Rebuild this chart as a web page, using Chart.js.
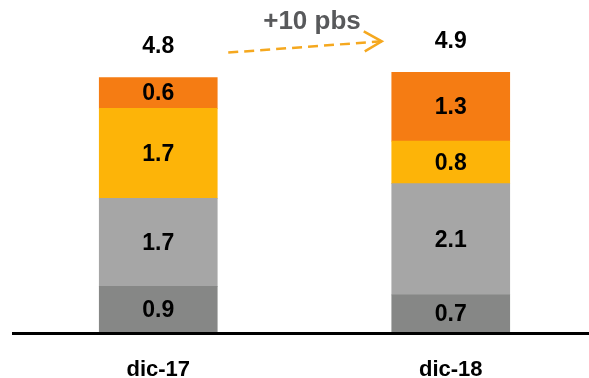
<!DOCTYPE html>
<html>
<head>
<meta charset="utf-8">
<script src="https://cdn.jsdelivr.net/npm/chart.js@4.4.0/dist/chart.umd.min.js"></script>
<style>
  html, body { margin: 0; padding: 0; overflow: hidden; background: #fff; }
  #wrap { width: 600px; height: 408px; }
</style>
</head>
<body>
<div id="wrap"><canvas id="chart" width="600" height="408"></canvas></div>
<script>
// datos
const categories = ['dic-17', 'dic-18'];
const seriesDark = [0.86, 0.7];
const seriesGray = [1.66, 2.1];
const seriesYellow = [1.7, 0.8];
const seriesOrange = [0.58, 1.3];
const totals = [4.8, 4.9];
const changeLabel = '+10 pbs';

const FONT = '"Liberation Sans", Arial, sans-serif';

// etiquetas, totales, flecha y eje
const labelsPlugin = {
    id: 'labels',
    afterDatasetsDraw(chart) {
        const ctx = chart.ctx;
        const area = chart.chartArea;
        ctx.save();
        ctx.textAlign = 'center';
        ctx.textBaseline = 'middle';
        ctx.font = 'bold 23px ' + FONT;
        ctx.fillStyle = '#000';
        chart.data.datasets.forEach((ds, i) => {
            chart.getDatasetMeta(i).data.forEach((el, j) => {
                ctx.fillText(ds.data[j].toFixed(1), el.x, (el.y + el.base) / 2 + 1);
            });
        });
        // totales
        const top = chart.getDatasetMeta(chart.data.datasets.length - 1).data;
        top.forEach((el, j) => {
            ctx.fillText(totals[j].toFixed(1), el.x, el.y - 31);
        });

        // eje x
        ctx.fillStyle = '#000';
        ctx.fillRect(area.left, area.bottom, area.right - area.left, 3);

        // flecha
        const a = top[0], b = top[1];
        const x0 = a.x + a.width / 2 + 11, y0 = a.y - 25;
        const x1 = b.x - b.width / 2 - 10, y1 = b.y - 31;
        ctx.strokeStyle = '#F5A81F';
        ctx.lineWidth = 2.5;
        ctx.setLineDash([10, 6]);
        ctx.beginPath();
        ctx.moveTo(x0, y0);
        ctx.lineTo(x1, y1);
        ctx.stroke();
        ctx.setLineDash([]);
        ctx.beginPath();
        ctx.moveTo(x1 - 18, y1 - 10);
        ctx.lineTo(x1, y1);
        ctx.lineTo(x1 - 17, y1 + 10);
        ctx.stroke();

        ctx.fillStyle = '#58595B';
        ctx.font = 'bold 26px ' + FONT;
        ctx.fillText(changeLabel, (x0 + x1) / 2 + 7, y1 - 19);
        ctx.restore();
    }
};

new Chart(document.getElementById('chart'), {
    type: 'bar',
    data: {
        labels: categories,
        datasets: [
            { data: seriesDark, backgroundColor: '#868786' },
            { data: seriesGray, backgroundColor: '#A6A6A6' },
            { data: seriesYellow, backgroundColor: '#FDB408' },
            { data: seriesOrange, backgroundColor: '#F57C13' }
        ]
    },
    options: {
        responsive: false,
        animation: false,
        layout: { padding: { left: 12, right: 3, top: 14, bottom: 0 } },
        datasets: { bar: { barThickness: 118, borderWidth: 0 } },
        plugins: {
            legend: { display: false },
            tooltip: { enabled: false }
        },
        scales: {
            x: {
                stacked: true,
                grid: { display: false, drawTicks: false },
                border: { display: false },
                ticks: {
                    color: '#000',
                    padding: 27,
                    font: { family: FONT, size: 22, weight: 'bold', lineHeight: 1 }
                }
            },
            y: {
                stacked: true,
                display: false,
                min: 0,
                max: 6
            }
        }
    },
    plugins: [labelsPlugin]
});
</script>
</body>
</html>
